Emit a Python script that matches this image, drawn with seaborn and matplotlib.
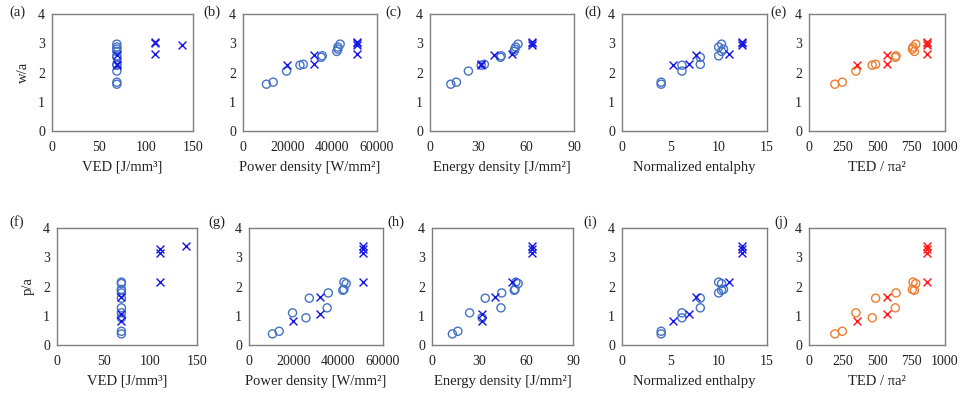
import numpy as np
import pandas as pd
import matplotlib
matplotlib.use("Agg")
import matplotlib.pyplot as plt
import seaborn as sns

sns.set_theme(style="white")
plt.rcParams["font.family"] = ["Liberation Serif", "DejaVu Serif"]
plt.rcParams["mathtext.fontset"] = "stix"

# --- data: conduction-mode tracks (circles) ---
circ_ved = [69, 69, 69, 69, 69, 69, 69, 69, 69, 69, 69]
circ_power = [10500, 13500, 19500, 25500, 27000, 35000, 35500, 42000, 42500, 42500, 43500]
circ_energy = [13, 16.5, 24, 32, 34, 44, 44.5, 52.5, 53, 53.5, 55]
circ_enthalpy = [4.05, 4.05, 6.2, 6.2, 8.1, 8.1, 10.0, 10.3, 10.5, 10.0, 10.3]
circ_ted = [190, 245, 345, 465, 490, 635, 640, 775, 760, 765, 785]
circ_wa = [1.60, 1.67, 2.05, 2.25, 2.28, 2.52, 2.57, 2.72, 2.80, 2.87, 2.97]
circ_pa = [0.38, 0.47, 1.10, 0.93, 1.60, 1.27, 1.78, 1.87, 1.90, 2.15, 2.10]

# --- data: keyhole-mode tracks (crosses) ---
cross_ved = [69, 69, 69, 110, 110, 138, 110]
cross_power = [19500, 32000, 32000, 51000, 51000, 51000, 51000]
cross_energy = [32, 32, 40, 51, 64, 64, 64]
cross_enthalpy = [5.3, 6.9, 7.7, 11.1, 12.4, 12.4, 12.4]
cross_ted = [350, 570, 570, 870, 870, 870, 870]
cross_wa = [2.25, 2.28, 2.60, 2.62, 3.05, 2.95, 3.00]
cross_pa = [0.82, 1.05, 1.65, 2.15, 3.15, 3.40, 3.28]

x_vars = [
    ("VED [J/mm³]", circ_ved, cross_ved, [0, 50, 100, 150]),
    ("Power density [W/mm²]", circ_power, cross_power, [0, 20000, 40000, 60000]),
    ("Energy density [J/mm²]", circ_energy, cross_energy, [0, 30, 60, 90]),
    ("Normalized entalphy", circ_enthalpy, cross_enthalpy, [0, 5, 10, 15]),
    ("TED / πa²", circ_ted, cross_ted, [0, 250, 500, 750, 1000]),
]
bottom_xlabels = ["VED [J/mm³]", "Power density [W/mm²]", "Energy density [J/mm²]",
                  "Normalized enthalpy", "TED / πa²"]
row_labels = [["(a)", "(b)", "(c)", "(d)", "(e)"], ["(f)", "(g)", "(h)", "(i)", "(j)"]]
y_rows = [("w/a", circ_wa, cross_wa), ("p/a", circ_pa, cross_pa)]

W, H = 964, 394
fig = plt.figure(figsize=(W / 100, H / 100), dpi=100)

# axes boxes in pixels: (left, width) per column for each row; (top, bottom) per row
col_boxes = [
    [(52, 141), (243, 134), (430, 144), (622, 145), (809, 136)],
    [(57, 140), (249, 134), (432, 141), (622, 145), (809, 136)],
]
row_boxes = [(14, 131), (228, 345)]
label_off = [[-27, -23, -28, -21, -22], [-33, -24, -28, -25, -21]]

blue_c, blue_x = "#4472C4", "#1A1AE6"
orange_c, red_x = "#ED7D31", "#FF1A1A"
spine_col = "#7F7F7F"

for r, (ylab, cy, xy) in enumerate(y_rows):
    top, bot = row_boxes[r]
    for c, (xlab, cx, xx, xticks) in enumerate(x_vars):
        left, width = col_boxes[r][c]
        ax = fig.add_axes([left / W, (H - bot) / H, width / W, (bot - top) / H])
        col_o = orange_c if c == 4 else blue_c
        col_x = red_x if c == 4 else blue_x
        df_c = pd.DataFrame({"x": cx, "y": cy})
        df_x = pd.DataFrame({"x": xx, "y": xy})
        sns.scatterplot(data=df_c, x="x", y="y", ax=ax, marker="o", s=34,
                        color=col_o, facecolor="none", edgecolor=col_o,
                        linewidth=1.0, zorder=3)
        sns.scatterplot(data=df_x, x="x", y="y", ax=ax, marker="x", s=32,
                        color=col_x, linewidth=1.05, zorder=4)
        ax.set_xlim(xticks[0], xticks[-1])
        ax.set_ylim(0, 4)
        ax.set_xticks(xticks)
        ax.set_yticks([0, 1, 2, 3, 4])
        ax.set_xticklabels([str(t) for t in xticks])
        ax.tick_params(axis="both", direction="out", length=3, width=0.8,
                       color=spine_col, labelsize=10, pad=2, labelcolor="#222222")
        ax.tick_params(axis="x", pad=4)
        for sp in ax.spines.values():
            sp.set_color(spine_col)
            sp.set_linewidth(1.0)
            sp.set_visible(True)
        xl = xlab if r == 0 else bottom_xlabels[c]
        ax.set_xlabel(xl, fontsize=10.5, color="#222222", labelpad=5)
        if c == 0:
            ax.set_ylabel(ylab, fontsize=10.5, color="#222222", labelpad=6)
        else:
            ax.set_ylabel("")
        ax.annotate(row_labels[r][c], xy=(0, 1), xycoords="axes fraction",
                    xytext=(label_off[r][c] * 0.72, 1 if r == 0 else 4),
                    textcoords="offset points", ha="right", va="center",
                    fontsize=10.5, color="#222222")
        ax.grid(False)

fig.savefig("out.png", dpi=100, facecolor="white")
